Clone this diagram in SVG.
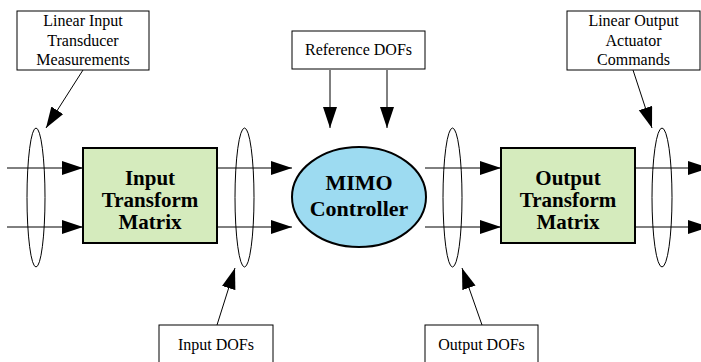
<svg xmlns="http://www.w3.org/2000/svg" width="701" height="362" viewBox="0 0 701 362">
<style>
.box{fill:#fff;stroke:#000;stroke-width:1}
text{font-family:'Liberation Serif','DejaVu Serif',serif;fill:#000;text-anchor:middle}
.lbl{font-size:16px}
.big{font-size:21px;font-weight:bold}
.mat{fill:#d5ebbd;stroke:#000;stroke-width:2}
.oval{fill:none;stroke:#000;stroke-width:1}
.ln{stroke:#000;stroke-width:1;fill:none;marker-end:url(#ah)}
</style>
<defs>
<marker id="ah" markerUnits="userSpaceOnUse" markerWidth="22" markerHeight="15" refX="21" refY="7" orient="auto">
<path d="M0,0 L21,7 L0,14 z" fill="#000"/>
</marker>
</defs>
<g id="connectors">
<line class="ln" x1="7" y1="168" x2="83" y2="168"/>
<line class="ln" x1="7" y1="227" x2="83" y2="227"/>
<line class="ln" x1="217" y1="168" x2="292" y2="168"/>
<line class="ln" x1="217" y1="227" x2="292" y2="227"/>
<line class="ln" x1="425" y1="168" x2="501" y2="168"/>
<line class="ln" x1="425" y1="227" x2="501" y2="227"/>
<line class="ln" x1="635" y1="168" x2="709" y2="168"/>
<line class="ln" x1="635" y1="227" x2="709" y2="227"/>
<line class="ln" x1="330" y1="70" x2="330" y2="128"/>
<line class="ln" x1="387" y1="70" x2="387" y2="128"/>
<line class="ln" x1="83" y1="70" x2="46" y2="128"/>
<line class="ln" x1="633" y1="70" x2="652" y2="128"/>
<line class="ln" x1="217" y1="325" x2="235" y2="268"/>
<line class="ln" x1="482" y1="325" x2="462" y2="268"/>
</g>
<g id="ovals">
<ellipse class="oval" cx="36" cy="197.5" rx="9" ry="69.5"/>
<ellipse class="oval" cx="244.5" cy="197.5" rx="9.5" ry="69.5"/>
<ellipse class="oval" cx="452.5" cy="197.5" rx="9.5" ry="69.5"/>
<ellipse class="oval" cx="662" cy="197.5" rx="10" ry="69.5"/>
</g>
<g id="linear-input">
<rect class="box" x="17" y="11" width="132" height="59"/>
<text class="lbl" x="83" y="26">Linear Input</text>
<text class="lbl" x="83" y="46">Transducer</text>
<text class="lbl" x="83" y="65">Measurements</text>
</g>
<g id="reference-dofs">
<rect class="box" x="292" y="31" width="133" height="38"/>
<text class="lbl" x="358.5" y="55">Reference DOFs</text>
</g>
<g id="linear-output">
<rect class="box" x="567" y="11" width="133" height="59"/>
<text class="lbl" x="633.5" y="26">Linear Output</text>
<text class="lbl" x="633.5" y="46">Actuator</text>
<text class="lbl" x="633.5" y="65">Commands</text>
</g>
<g id="input-transform">
<rect class="mat" x="83" y="148" width="134" height="95"/>
<text class="big" x="150" y="185">Input</text>
<text class="big" x="150" y="207">Transform</text>
<text class="big" x="150" y="229">Matrix</text>
</g>
<g id="mimo">
<ellipse cx="359" cy="197" rx="67" ry="50" fill="#9ddbf1" stroke="#000" stroke-width="2"/>
<text class="big" x="359" y="190" style="font-size:22px">MIMO</text>
<text class="big" x="359" y="216" style="font-size:22px">Controller</text>
</g>
<g id="output-transform">
<rect class="mat" x="501" y="148" width="134" height="95"/>
<text class="big" x="568" y="185">Output</text>
<text class="big" x="568" y="207">Transform</text>
<text class="big" x="568" y="229">Matrix</text>
</g>
<g id="input-dofs">
<rect class="box" x="159" y="325" width="114" height="50"/>
<text class="lbl" x="216" y="350">Input DOFs</text>
</g>
<g id="output-dofs">
<rect class="box" x="425" y="325" width="113" height="50"/>
<text class="lbl" x="481.5" y="350">Output DOFs</text>
</g>
</svg>
